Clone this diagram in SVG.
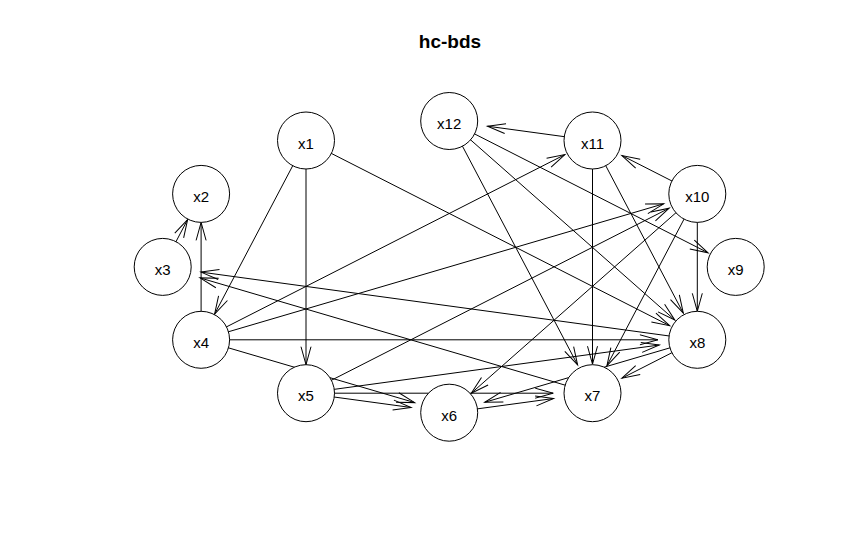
<svg xmlns="http://www.w3.org/2000/svg" width="862" height="555" viewBox="0 0 862 555">
<defs>
<marker id="a" markerUnits="userSpaceOnUse" markerWidth="22" markerHeight="14" viewBox="-20 -7 22 14" refX="0" refY="0" orient="auto" overflow="visible">
<path d="M-18,-5 L0,0 L-18,5" fill="none" stroke="#000" stroke-width="1"/>
</marker>
</defs>
<style>
.e line{stroke:#000;stroke-width:1;fill:none;marker-end:url(#a)}
.n circle{fill:#fff;stroke:#000;stroke-width:1}
.n text{font-family:"Liberation Sans",Arial,sans-serif;font-size:15px;text-anchor:middle;fill:#000}
.t{font-family:"Liberation Sans",Arial,sans-serif;font-size:19px;font-weight:bold;text-anchor:middle;fill:#000}
</style>
<rect width="862" height="555" fill="#fff"/>
<text class="t" x="450" y="48">hc-bds</text>
<g id="edges" class="e">
<line x1="306" y1="140.5" x2="214.6" y2="314.1"/>
<line x1="306" y1="140.5" x2="306" y2="364.7"/>
<line x1="306" y1="140.5" x2="669.7" y2="325.7"/>
<line x1="162.7" y1="266.9" x2="187.6" y2="219.6"/>
<line x1="201.1" y1="339.8" x2="201.1" y2="222.4"/>
<line x1="201.1" y1="339.8" x2="414.7" y2="402.6"/>
<line x1="306" y1="393.2" x2="411.1" y2="407.5"/>
<line x1="201.1" y1="339.8" x2="657.9" y2="339.8"/>
<line x1="306" y1="393.2" x2="659.3" y2="345"/>
<line x1="201.1" y1="339.8" x2="663.7" y2="203.8"/>
<line x1="306" y1="393.2" x2="669.2" y2="208.2"/>
<line x1="201.1" y1="339.8" x2="564.9" y2="154.6"/>
<line x1="306" y1="393.2" x2="553.2" y2="393.2"/>
<line x1="449.2" y1="412.7" x2="553.6" y2="398.5"/>
<line x1="592.5" y1="393.2" x2="200" y2="277.9"/>
<line x1="697.3" y1="339.8" x2="201" y2="272.1"/>
<line x1="697.3" y1="339.8" x2="484.7" y2="402.3"/>
<line x1="697.3" y1="339.8" x2="621.9" y2="378.2"/>
<line x1="697.3" y1="193.9" x2="471.3" y2="393.2"/>
<line x1="697.3" y1="193.9" x2="606.9" y2="365.8"/>
<line x1="697.3" y1="193.9" x2="697.3" y2="311.3"/>
<line x1="697.3" y1="193.9" x2="621.9" y2="155.5"/>
<line x1="592.5" y1="140.5" x2="592.5" y2="364.2"/>
<line x1="592.5" y1="140.5" x2="683.3" y2="313.2"/>
<line x1="592.5" y1="140.5" x2="487.5" y2="126.2"/>
<line x1="449.2" y1="121" x2="577.6" y2="364.9"/>
<line x1="449.2" y1="121" x2="674.8" y2="320"/>
<line x1="449.2" y1="121" x2="708.1" y2="252.8"/>
</g>
<g id="x1" class="n"><circle cx="306" cy="140.5" r="28.5"/><text x="306" y="148.5">x1</text></g>
<g id="x2" class="n"><circle cx="201.1" cy="193.9" r="28.5"/><text x="201.1" y="201.9">x2</text></g>
<g id="x3" class="n"><circle cx="162.7" cy="266.9" r="28.5"/><text x="162.7" y="274.9">x3</text></g>
<g id="x4" class="n"><circle cx="201.1" cy="339.8" r="28.5"/><text x="201.1" y="347.8">x4</text></g>
<g id="x5" class="n"><circle cx="306" cy="393.2" r="28.5"/><text x="306" y="401.2">x5</text></g>
<g id="x6" class="n"><circle cx="449.2" cy="412.7" r="28.5"/><text x="449.2" y="420.7">x6</text></g>
<g id="x7" class="n"><circle cx="592.5" cy="393.2" r="28.5"/><text x="592.5" y="401.2">x7</text></g>
<g id="x8" class="n"><circle cx="697.3" cy="339.8" r="28.5"/><text x="697.3" y="347.8">x8</text></g>
<g id="x9" class="n"><circle cx="735.7" cy="266.9" r="28.5"/><text x="735.7" y="274.9">x9</text></g>
<g id="x10" class="n"><circle cx="697.3" cy="193.9" r="28.5"/><text x="697.3" y="201.9">x10</text></g>
<g id="x11" class="n"><circle cx="592.5" cy="140.5" r="28.5"/><text x="592.5" y="148.5">x11</text></g>
<g id="x12" class="n"><circle cx="449.2" cy="121" r="28.5"/><text x="449.2" y="129">x12</text></g>
</svg>
